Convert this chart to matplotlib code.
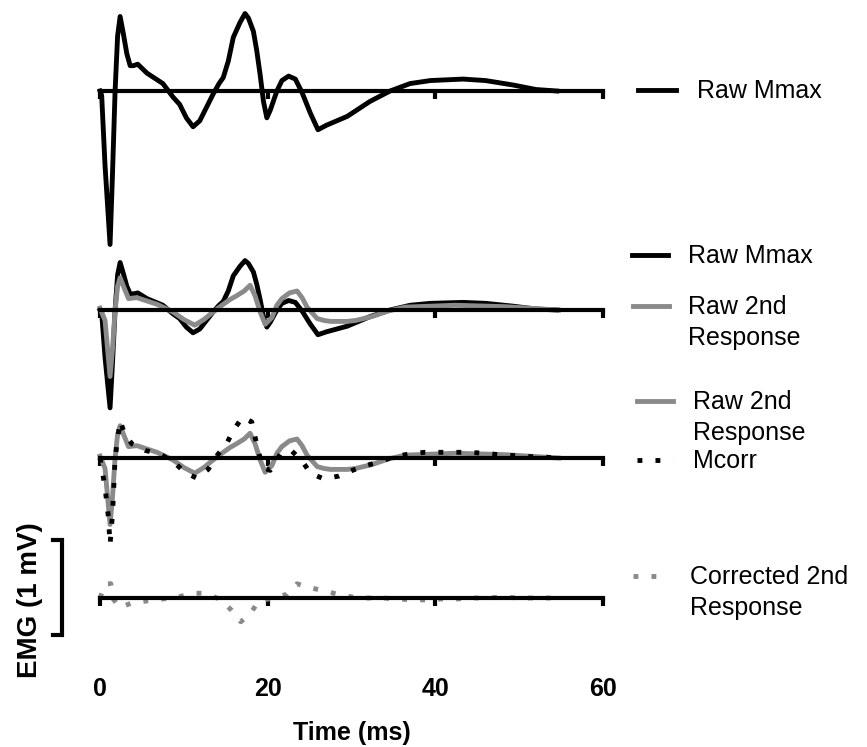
import matplotlib
matplotlib.use('Agg')
import matplotlib.pyplot as plt
from matplotlib.lines import Line2D

plt.rcParams['font.family'] = ['Liberation Sans', 'DejaVu Sans']

# ---------------- data (mV vs ms) ----------------
t_raw_mmax = [0, 0.2, 0.6, 1.2, 1.5, 1.8, 2.1, 2.4, 2.8, 3.2, 3.6, 4.0, 4.5, 5.6, 7.5,
              8.7, 9.5, 10.3, 11.1, 11.9, 12.7, 13.5, 14.2, 14.7, 15.3, 15.9, 16.7,
              17.3, 17.7, 18.3, 18.7, 19.1, 19.5, 19.9, 20.3, 21.1, 21.7, 22.5, 23.3,
              24.1, 25.1, 26.0, 27.0, 29.5, 32.2, 34.6, 37.0, 39.4, 43.3, 46.0, 49.3,
              52.0, 54.5]
raw_mmax = [0, -0.03, -0.50, -1.03, -0.54, 0, 0.37, 0.50, 0.38, 0.25, 0.17, 0.17, 0.18,
            0.12, 0.05, -0.04, -0.09, -0.18, -0.24, -0.20, -0.11, -0.02, 0.05, 0.09,
            0.20, 0.36, 0.46, 0.52, 0.49, 0.40, 0.27, 0.11, -0.07, -0.18, -0.13, 0,
            0.07, 0.10, 0.08, -0.01, -0.15, -0.26, -0.23, -0.17, -0.07, 0, 0.05, 0.07,
            0.08, 0.07, 0.04, 0.01, 0]

t_raw_2nd = [0, 0.6, 1.2, 1.5, 1.8, 2.1, 2.4, 2.8, 3.4, 4.4, 6.8, 8.7, 10.0, 11.3, 12.4,
             13.5, 14.7, 15.5, 16.3, 17.2, 17.9, 18.5, 19.1, 19.7, 20.5, 21.1, 21.7,
             22.6, 23.5, 24.1, 24.7, 25.9, 26.7, 27.5, 29.5, 30.5, 32.4, 34.4, 36.4,
             42.4, 48.3, 54.7]
raw_2nd = [0.02, -0.11, -0.70, -0.40, 0, 0.25, 0.34, 0.25, 0.12, 0.13, 0.06, -0.02,
           -0.10, -0.16, -0.10, -0.02, 0.06, 0.11, 0.15, 0.20, 0.26, 0.15, -0.02, -0.15,
           -0.08, 0.05, 0.12, 0.18, 0.20, 0.13, 0.03, -0.09, -0.11, -0.12, -0.12, -0.11,
           -0.07, -0.01, 0.03, 0.05, 0.035, 0]

t_mcorr = [0, 0.6, 1.0, 1.2, 1.5, 1.8, 2.4, 3.0, 3.8, 5.4, 7.2, 8.9, 10.1, 11.5, 12.9,
           13.9, 15.1, 15.9, 17.0, 18.1, 18.5, 19.1, 19.4, 20.3, 21.5, 22.8, 24.1, 25.1,
           26.7, 28.5, 30.1, 31.7, 33.4, 35.2, 36.9, 38.7, 40.5, 42.2, 44.0, 45.8, 47.6,
           49.4, 51.2, 53.0, 54.5]
mcorr = [0, -0.31, -0.62, -0.91, -0.58, 0, 0.39, 0.24, 0.15, 0.08, 0.04, -0.05, -0.15,
         -0.21, -0.12, 0.02, 0.15, 0.29, 0.43, 0.38, 0.22, 0, -0.10, -0.13, 0.04, 0.08,
         -0.03, -0.16, -0.22, -0.19, -0.13, -0.08, -0.04, 0.02, 0.04, 0.06, 0.06, 0.06,
         0.06, 0.05, 0.035, 0.025, 0.015, 0.01, 0]

t_corr_2nd = [0, 0.6, 1.3, 1.5, 2.3, 3.9, 5.7, 7.5, 9.3, 11.0, 12.7, 14.4, 15.7, 16.8,
              18.0, 18.9, 20.7, 22.3, 23.5, 24.9, 26.6, 28.3, 30.1, 31.9, 33.7, 35.5,
              37.3, 39.0, 40.8, 42.6, 44.4, 46.2, 48.0, 50.0, 52.0, 54.5]
corr_2nd = [0, 0.15, 0.15, 0, -0.10, -0.05, -0.03, -0.01, 0.01, 0.05, 0.05, -0.02, -0.13,
            -0.25, -0.16, -0.03, 0, 0.04, 0.15, 0.11, 0.08, 0.04, 0.01, 0, 0, -0.01,
            -0.02, -0.02, -0.01, -0.01, 0, 0, 0.01, 0, 0, 0]

x_ticks = [0, 20, 40, 60]
x_tick_labels = ['0', '20', '40', '60']
scale_bar_mv = 1.0

lbl_mmax = 'Raw Mmax'
lbl_raw2 = 'Raw 2nd\nResponse'
lbl_mcorr = 'Mcorr'
lbl_corr2 = 'Corrected 2nd\nResponse'

# ---------------- styling ----------------
W, H = 867, 747
BLACK = '#000000'
GRAY = '#8a8a8a'
LW = 3.5
DOT = (0, (1, 2.7))
FS = 18

fig = plt.figure(figsize=(W / 100, H / 100), dpi=100)


def fx(x):
    return x / W


def fy(y):
    return 1 - y / H


def panel(top_px, bottom_px, base_px, px_per_mv):
    ax = fig.add_axes([fx(100), fy(bottom_px), 503 / W, (bottom_px - top_px) / H])
    ax.set_xlim(0, 60)
    ax.set_ylim(-(bottom_px - base_px) / px_per_mv, (base_px - top_px) / px_per_mv)
    ax.patch.set_visible(False)
    for s in ['top', 'right', 'left']:
        ax.spines[s].set_visible(False)
    ax.spines['bottom'].set_position(('data', 0))
    ax.spines['bottom'].set_linewidth(3)
    ax.set_yticks([])
    ax.set_xticks(x_ticks)
    ax.tick_params(axis='x', direction='out', length=6, width=3, labelbottom=False)
    return ax


ax1 = panel(0, 250, 91, 149)
ax2 = panel(250, 415, 310, 95)
ax3 = panel(400, 560, 458, 95)
ax4 = panel(540, 660, 598, 95)

ax1.plot(t_raw_mmax, raw_mmax, color=BLACK, lw=LW, clip_on=False,
         solid_joinstyle='round')

ax2.plot(t_raw_mmax, raw_mmax, color=BLACK, lw=LW, clip_on=False,
         solid_joinstyle='round')
ax2.plot(t_raw_2nd, raw_2nd, color=GRAY, lw=LW, clip_on=False,
         solid_joinstyle='round')

ax3.plot(t_raw_2nd, raw_2nd, color=GRAY, lw=LW, clip_on=False,
         solid_joinstyle='round')
ax3.plot(t_mcorr, mcorr, color=BLACK, lw=LW, ls=DOT, clip_on=False)

ax4.plot(t_corr_2nd, corr_2nd, color=GRAY, lw=LW, ls=DOT, clip_on=False)

# x tick labels and label on the bottom panel
ax4.set_xticklabels(x_tick_labels)
ax4.tick_params(axis='x', labelbottom=True, pad=51, labelsize=FS)
for lab in ax4.get_xticklabels():
    lab.set_fontweight('bold')
ax4.set_xlabel('Time (ms)', fontsize=FS, fontweight='bold', labelpad=14)

# scale bar (1 mV) drawn in bottom panel data units
bar_top = 0.61
bar_bot = bar_top - scale_bar_mv
bx, cap = -4.5, -5.6
ax4.plot([cap, bx, bx, cap], [bar_top, bar_top, bar_bot, bar_bot], color=BLACK,
         lw=3, clip_on=False, solid_joinstyle='miter')
fig.text(fx(30), fy(600), 'EMG (1 mV)', rotation=90, fontsize=20, fontweight='bold',
         ha='center', va='center')


# ---------------- legends ----------------
def legend_entry(x0, x1, y_line, x_text, label, color, ls='-'):
    fig.add_artist(Line2D([fx(x0), fx(x1)], [fy(y_line), fy(y_line)], color=color,
                          lw=LW, ls=ls, transform=fig.transFigure))
    fig.text(fx(x_text), fy(y_line - 11), label, fontsize=FS, ha='left', va='top',
             linespacing=1.35)


legend_entry(638, 676, 90, 697, lbl_mmax, BLACK)
legend_entry(632, 668, 255, 688, lbl_mmax, BLACK)
legend_entry(633, 669, 306, 688, lbl_raw2, GRAY)
legend_entry(637, 673, 401, 693, lbl_raw2, GRAY)
legend_entry(637, 673, 460, 693, lbl_mcorr, BLACK, DOT)
legend_entry(633, 668, 576, 690, lbl_corr2, GRAY, DOT)

fig.savefig('out.png', dpi=100)
